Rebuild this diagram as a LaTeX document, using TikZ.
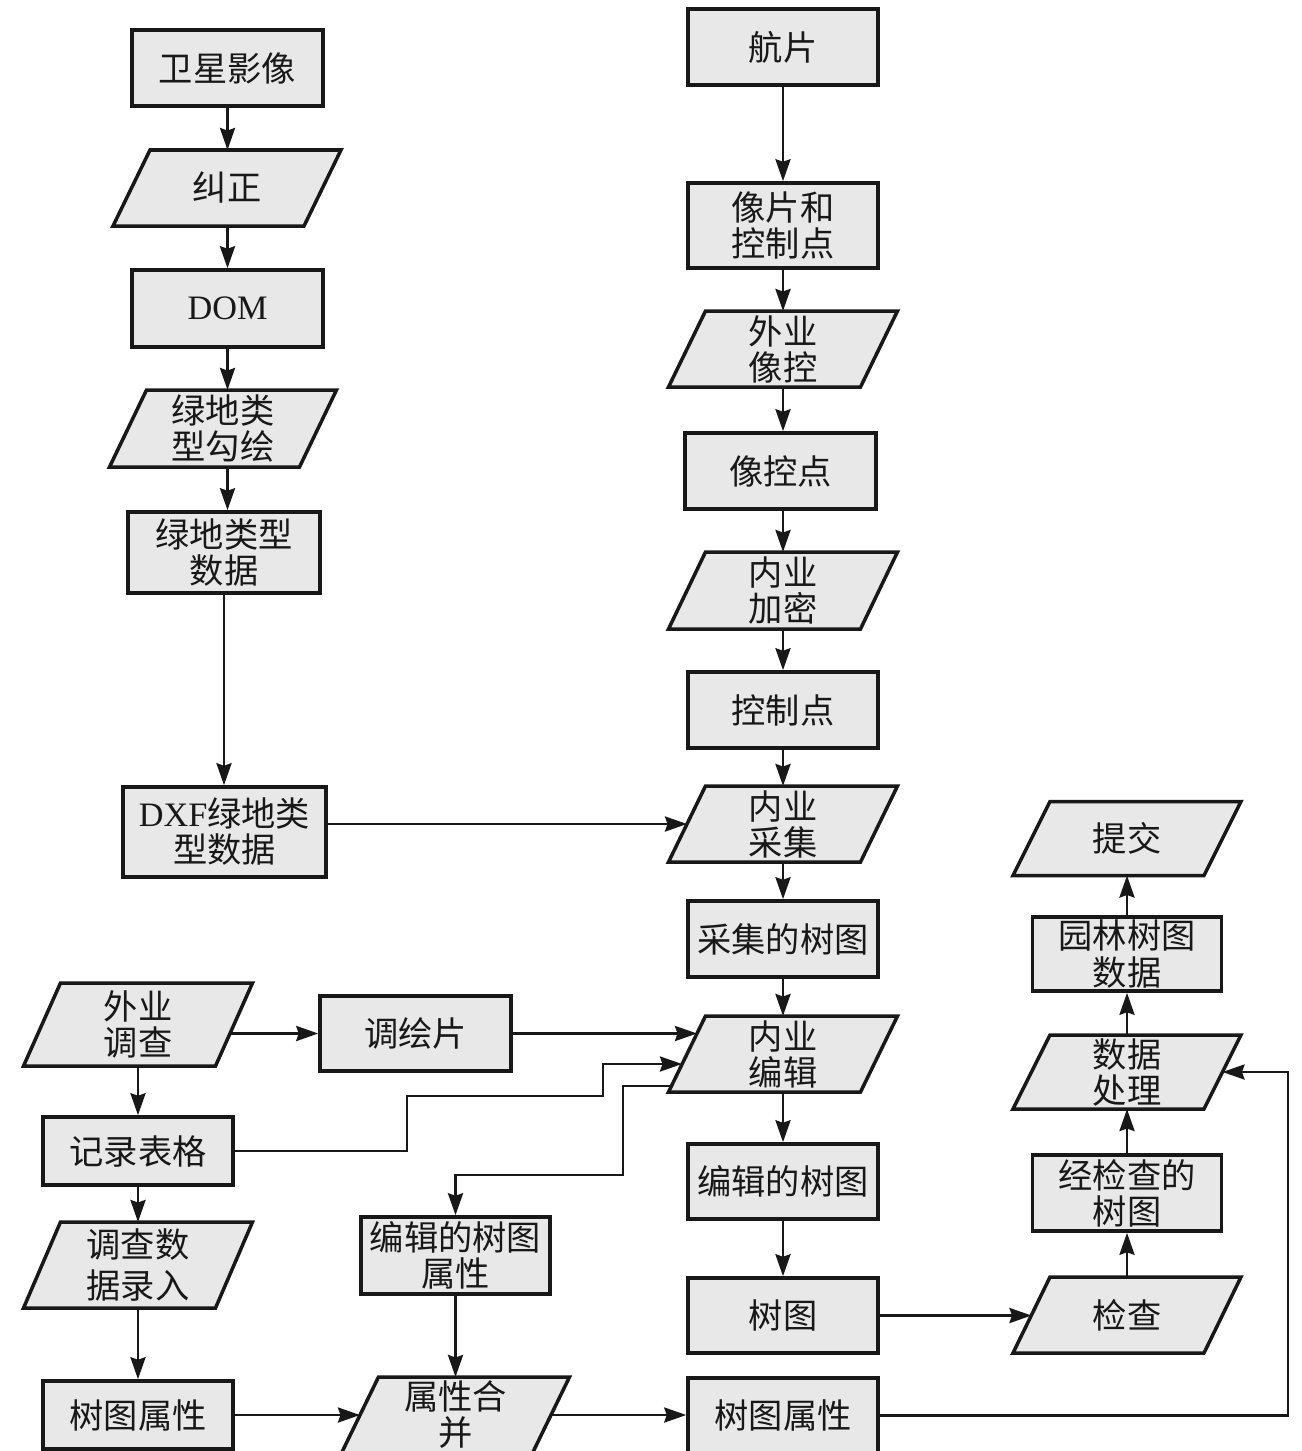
\documentclass[tikz,border=0pt]{standalone}
\usepackage{fontspec}
\setmainfont{Liberation Serif}
\newfontfamily\cjk{Noto Sans CJK SC}
\usetikzlibrary{arrows.meta,calc}
\pgfdeclarelayer{conn}
\pgfdeclarelayer{bg}
\pgfsetlayers{conn,bg,main}
\definecolor{boxfill}{RGB}{232,232,232}
\definecolor{ink}{RGB}{24,24,24}
\newcommand\pshape[1]{\draw[draw=ink, fill=boxfill, line width=2pt, line join=miter]
  ([xshift=0.37cm]#1.north west) -- ([xshift=0.37cm]#1.north east) --
  ([xshift=-0.37cm]#1.south east) -- ([xshift=-0.37cm]#1.south west) -- cycle;}
\begin{document}
\begin{tikzpicture}[x=0.02cm,y=-0.02cm,
  txt/.style={font=\cjk\fontsize{19.5}{20.5}\selectfont, align=center, inner sep=0pt, text=ink},
  box/.style 2 args={txt, rectangle, draw=ink, fill=boxfill, line width=2pt,
     minimum width={#1*0.02cm}, minimum height={#2*0.02cm}},
  pg/.style 2 args={txt, rectangle, outer sep=0pt,
     minimum width={#1*0.02cm}, minimum height={#2*0.02cm}},
  arr/.style={draw=ink, line width=1.6pt, -{Stealth[length=0.44cm, width=0.3cm, inset=0.05cm]}}
]
\useasboundingbox (0,0) rectangle (1302,1451);

% left column
\node[box={191}{76}] (sat) at (227.5,68) {卫星影像};
\node[pg={191}{76}] (jz) at (227,188) {纠正};
\node[box={191}{77}] (dom) at (227.5,308.5) {\rmfamily DOM};
\node[pg={190}{77}] (gh) at (223,428.5) {绿地类\\型勾绘};
\node[box={192}{81}] (ldata) at (224,552.5) {绿地类型\\数据};
\node[box={203}{90}] (dxf) at (224.5,832) {{\rmfamily DXF}绿地类\\型数据};

% middle column
\node[box={190}{76}] (hp) at (783,47) {航片};
\node[box={190}{85}] (xpk) at (783,225.5) {像片和\\控制点};
\node[pg={192}{76}] (wyxk) at (783,349) {外业\\像控};
\node[box={191}{76}] (xkd) at (780.5,471) {像控点};
\node[pg={192}{77}] (nyjm) at (783,590.5) {内业\\加密};
\node[box={190}{76}] (kzd) at (783,710) {控制点};
\node[pg={192}{76}] (nycj) at (783,824) {内业\\采集};
\node[box={190}{76}] (cjst) at (783,939) {采集的树图};
\node[pg={192}{76}] (nybj) at (783,1054) {内业\\编辑};
\node[box={190}{75}] (bjst) at (783,1181.5) {编辑的树图};
\node[box={190}{75}] (st) at (783,1315.5) {树图};
\node[box={190}{75}] (stsxR) at (783,1415.5) {树图属性};

% right column
\node[pg={191}{74}] (tj) at (1127,838.5) {提交};
\node[box={189}{74}] (ylsj) at (1127,954) {园林树图\\数据};
\node[pg={191}{74}] (sjcl) at (1127,1072) {数据\\处理};
\node[box={189}{76}] (jjc) at (1127,1193) {经检查的\\树图};
\node[pg={191}{76}] (jc) at (1127,1315) {检查};

% bottom left
\node[pg={192}{83}] (wydc) at (138,1024.5) {外业\\调查};
\node[box={191}{75}] (dhp) at (415.5,1033.5) {调绘片};
\node[box={190}{68}] (jlbg) at (138,1151) {记录表格};
\node[pg={192}{86}] (dcsj) at (138,1265) {调查数\\[2.5pt]据录入};
\node[box={190}{68}] (stsxL) at (138,1415) {树图属性};
\node[box={189}{77}] (bjsx) at (455.5,1255.5) {编辑的树图\\属性};
\node[pg={191}{76}] (sxhb) at (455.5,1415) {属性合\\并};

\begin{pgfonlayer}{bg}
\foreach \n in {jz,gh,wyxk,nyjm,nycj,nybj,tj,sjcl,jc,wydc,dcsj,sxhb} {\pshape{\n}}
\end{pgfonlayer}

\begin{pgfonlayer}{conn}
% left column
\draw[arr] (sat.south) -- (sat.south |- jz.north);
\draw[arr] (jz.south -| sat.south) -- (sat.south |- dom.north);
\draw[arr] (dom.south) -- (dom.south |- gh.north);
\draw[arr] (gh.south -| dom.south) -- (dom.south |- ldata.north);
\draw[arr] (ldata.south) -- (ldata.south |- dxf.north);
\draw[arr] (nycj.west -| dxf.east) -- (nycj.west);
% middle column
\draw[arr] (hp.south) -- (hp.south |- xpk.north);
\draw[arr] (xpk.south) -- (xpk.south |- wyxk.north);
\draw[arr] (wyxk.south) -- (wyxk.south |- xkd.north);
\draw[arr] (xkd.south -| wyxk.south) -- (wyxk.south |- nyjm.north);
\draw[arr] (nyjm.south) -- (nyjm.south |- kzd.north);
\draw[arr] (kzd.south) -- (kzd.south |- nycj.north);
\draw[arr] (nycj.south) -- (nycj.south |- cjst.north);
\draw[arr] (cjst.south) -- (cjst.south |- nybj.north);
\draw[arr] (nybj.south) -- (nybj.south |- bjst.north);
\draw[arr] (bjst.south) -- (bjst.south |- st.north);
\draw[arr] (st.east) -- (st.east -| jc.west);
% right column
\draw[arr] (jc.north) -- (jc.north |- jjc.south);
\draw[arr] (jjc.north) -- (jjc.north |- sjcl.south);
\draw[arr] (sjcl.north) -- (sjcl.north |- ylsj.south);
\draw[arr] (ylsj.north) -- (ylsj.north |- tj.south);
\coordinate (rc) at (1288,1072);
\draw[arr] (stsxR.east) -| (rc) -- (sjcl.east);
% bottom left
\draw[arr] (wydc.center |- dhp.west) -- (dhp.west);
\draw[arr] (dhp.east) -- ($(nybj.west)+(10,-20.5)$);
\draw[arr] (jlbg.east) -- (407,1151) -- (407,1096) -- (603,1096) -- (603,1064) -- ($(nybj.west)+(-5,10)$);
\draw[arr] ($(nybj.center)+(0,32)$) -| (623,1175) -| (bjsx.north);
\draw[arr] (wydc.center) -- (wydc.center |- jlbg.north);
\draw[arr] (jlbg.south) -- (jlbg.south |- dcsj.north);
\draw[arr] (dcsj.center) -- (dcsj.center |- stsxL.north);
\draw[arr] (stsxL.east) -- (stsxL.east -| sxhb.west);
\draw[arr] (bjsx.south) -- (bjsx.south |- sxhb.north);
\draw[arr] (sxhb.center) -- (sxhb.center -| stsxR.west);
\end{pgfonlayer}
\end{tikzpicture}
\end{document}
